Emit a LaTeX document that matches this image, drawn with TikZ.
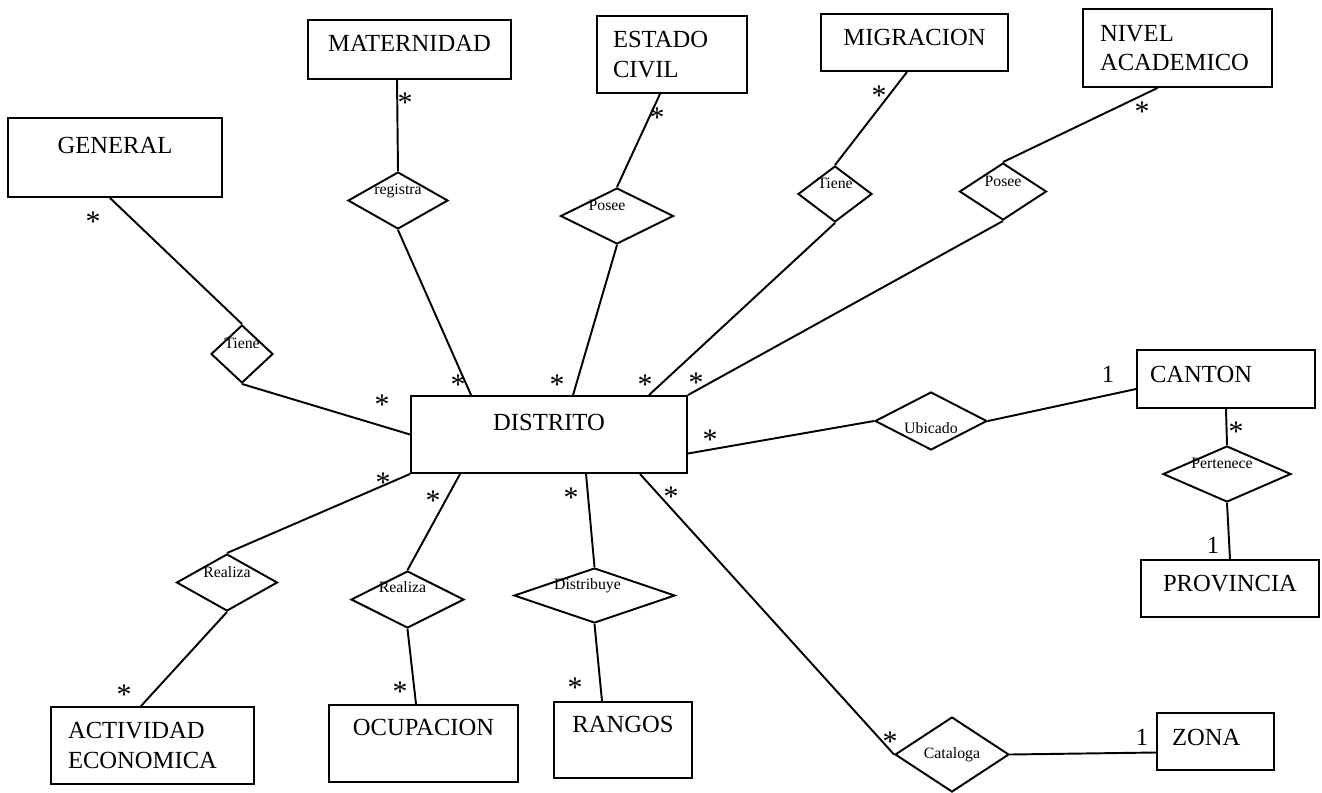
\documentclass[tikz,border=0pt]{standalone}
\usepackage{fontspec}
\setmainfont{Liberation Serif}
\usetikzlibrary{shapes.geometric}

\tikzset{
  entity/.style={draw, rectangle, line width=1.1pt, inner sep=0pt, font=\fontsize{14}{17}\selectfont},
  rel/.style={draw, diamond, line width=1.1pt, inner sep=0pt},
  lbl/.style={font=\fontsize{9}{10}\selectfont, inner sep=0pt},
  one/.style={font=\fontsize{14}{14}\selectfont, inner sep=0pt},
  many/.style={font=\fontsize{17}{17}\selectfont, inner sep=0pt, yshift=-2.5pt},
  conn/.style={line width=1.1pt}
}

\begin{document}
\begin{tikzpicture}[x=0.02cm, y=-0.02cm]
\useasboundingbox (0,0) rectangle (1322,792);

% entidades
\node[entity, minimum width=4.28cm, minimum height=1.58cm, text depth=0.48cm] (general) at (115,157.5) {GENERAL};
\node[entity, minimum width=4.06cm, minimum height=1.18cm, text depth=0.24cm] (maternidad) at (409.5,49.5) {MATERNIDAD};
\node[entity, inner xsep=0.32cm, text width=2.36cm, align=left, minimum height=1.54cm] (estado) at (672,54.5) {ESTADO\\CIVIL};
\node[entity, minimum width=3.74cm, minimum height=1.14cm, text depth=0.2cm] (migracion) at (914.5,42.5) {MIGRACION};
\node[entity, inner xsep=0.34cm, text width=3.1cm, align=left, minimum height=1.56cm] (nivel) at (1177.5,48) {NIVEL\\ACADEMICO};
\node[entity, minimum width=5.52cm, minimum height=1.54cm, text depth=0.48cm] (distrito) at (549,434.5) {DISTRITO};
\node[entity, inner xsep=0.26cm, text width=3.04cm, align=left, minimum height=1.16cm, text depth=0.2cm] (canton) at (1226,379) {CANTON};
\node[entity, minimum width=3.56cm, minimum height=1.14cm, text depth=0.2cm] (provincia) at (1230,588.5) {PROVINCIA};
\node[entity, inner xsep=0.3cm, text width=1.74cm, align=left, minimum height=1.14cm, text depth=0.16cm] (zona) at (1215.5,741.5) {ZONA};
\node[entity, inner xsep=0.34cm, text width=3.38cm, align=left, minimum height=1.54cm] (actividad) at (152.5,745.5) {ACTIVIDAD\\ECONOMICA};
\node[entity, minimum width=3.78cm, minimum height=1.54cm, text depth=0.64cm] (ocupacion) at (423.5,743.5) {OCUPACION};
\node[entity, minimum width=2.76cm, minimum height=1.52cm, text depth=0.64cm] (rangos) at (623,740) {RANGOS};

% relaciones
\node[rel, minimum width=1.24cm, minimum height=1.16cm, label={[lbl, yshift=0.22cm]center:Tiene}] (tiene1) at (242,354) {};
\node[rel, minimum width=2.0cm, minimum height=1.14cm, label={[lbl, yshift=0.2cm]center:registra}] (registra) at (398,200.5) {};
\node[rel, minimum width=2.26cm, minimum height=1.12cm, label={[lbl, xshift=-0.2cm, yshift=0.22cm]center:Posee}] (posee1) at (617,216) {};
\node[rel, minimum width=1.48cm, minimum height=1.12cm, label={[lbl, yshift=0.22cm]center:Tiene}] (tiene2) at (835,194) {};
\node[rel, minimum width=1.74cm, minimum height=1.14cm, label={[lbl, yshift=0.2cm]center:Posee}] (posee2) at (1003,191.5) {};
\node[rel, minimum width=2.24cm, minimum height=1.16cm, label={[lbl, yshift=-0.14cm]center:Ubicado}] (ubicado) at (931,421) {};
\node[rel, minimum width=2.56cm, minimum height=1.12cm, label={[lbl, xshift=-0.1cm, yshift=0.22cm]center:Pertenece}] (pertenece) at (1227,474) {};
\node[rel, minimum width=2.28cm, minimum height=1.5cm, label={[lbl]center:Cataloga}] (cataloga) at (952,754.5) {};
\node[rel, minimum width=2.02cm, minimum height=1.14cm, label={[lbl, yshift=0.2cm]center:Realiza}] (realiza1) at (227,582.5) {};
\node[rel, minimum width=2.26cm, minimum height=1.14cm, label={[lbl, xshift=-0.1cm, yshift=0.24cm]center:Realiza}] (realiza2) at (407.5,599.5) {};
\node[rel, minimum width=3.22cm, minimum height=1.1cm, label={[lbl, xshift=-0.14cm, yshift=0.2cm]center:Distribuye}] (distribuye) at (594.5,595.5) {};

% lineas
\draw[conn] ([xshift=-0.1cm]general.south) -- (tiene1.north);
\draw[conn] (tiene1.south) -- (distrito.west);
\draw[conn] ([xshift=-0.25cm]maternidad.south) -- (registra.north);
\draw[conn] (registra.south) -- ([xshift=1.22cm]distrito.north west);
\draw[conn] ([xshift=-0.24cm]estado.south) -- (posee1.north);
\draw[conn] (posee1.south) -- ([xshift=3.26cm]distrito.north west);
\draw[conn] ([xshift=-0.15cm]migracion.south) -- (tiene2.north);
\draw[conn] (tiene2.south) -- ([xshift=4.78cm]distrito.north west);
\draw[conn] ([xshift=-0.4cm]nivel.south) -- (posee2.north);
\draw[conn] (posee2.south) -- (distrito.north east);
\draw[conn] ([yshift=-0.38cm]distrito.east) -- (ubicado.west);
\draw[conn] (ubicado.east) -- ([yshift=-0.2cm]canton.west);
\draw[conn] (canton.south) -- (pertenece.north);
\draw[conn] (pertenece.south) -- (provincia.north);
\draw[conn] ([xshift=-0.96cm]distrito.south east) -- (cataloga.west);
\draw[conn] (cataloga.east) -- ([yshift=-0.22cm]zona.west);
\draw[conn] (distrito.south west) -- (realiza1.north);
\draw[conn] (realiza1.south) -- ([xshift=-0.23cm]actividad.north);
\draw[conn] ([xshift=1.0cm]distrito.south west) -- (realiza2.north);
\draw[conn] (realiza2.south) -- ([xshift=-0.15cm]ocupacion.north);
\draw[conn] ([xshift=3.52cm]distrito.south west) -- (distribuye.north);
\draw[conn] (distribuye.south) -- ([xshift=-0.42cm]rangos.north);

% cardinalidades
\node[many] (s1) at (93,217) {*};
\node[many] (s2) at (382,400) {*};
\node[many] (s3) at (405,98) {*};
\node[many] (s4) at (458,380) {*};
\node[many] (s5) at (657,113) {*};
\node[many] (s6) at (557,380) {*};
\node[many] (s7) at (879,91) {*};
\node[many] (s8) at (645,380) {*};
\node[many] (s9) at (1142,107) {*};
\node[many] (s10) at (696,378) {*};
\node[many] (s11) at (710,435) {*};
\node[one] (o1) at (1108,374) {1};
\node[many] (s12) at (1236,427) {*};
\node[one] (o2) at (1213,545) {1};
\node[many] (s13) at (671,492) {*};
\node[many] (s14) at (890,737) {*};
\node[one] (o3) at (1142,737) {1};
\node[many] (s15) at (383,478) {*};
\node[many] (s16) at (124,690) {*};
\node[many] (s17) at (433,496) {*};
\node[many] (s18) at (400,687) {*};
\node[many] (s19) at (571,493) {*};
\node[many] (s20) at (575,683) {*};
\end{tikzpicture}
\end{document}
